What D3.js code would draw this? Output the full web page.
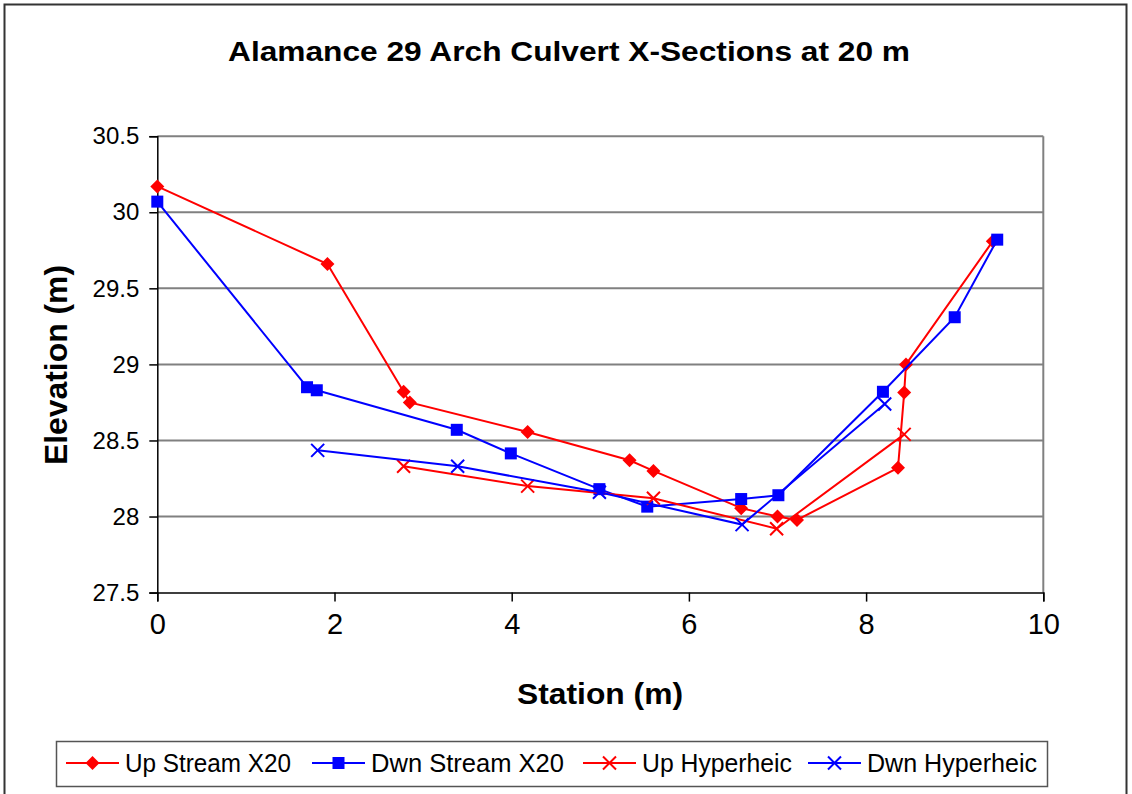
<!DOCTYPE html>
<html>
<head>
<meta charset="utf-8">
<script src="https://cdn.jsdelivr.net/npm/d3@7"></script>
<style>
  html, body { margin: 0; padding: 0; background: #fff; }
  svg { display: block; font-family: "Liberation Sans", Arial, sans-serif; }
</style>
</head>
<body>
<svg id="chart" width="1132" height="794"></svg>
<script>
// Cross-section survey: station (m) vs elevation (m)
const upStreamStation = [0, 1.92, 2.78, 2.85, 4.18, 5.33, 5.60, 6.59, 7.00, 7.22, 8.36, 8.43, 8.45, 9.43];
const upStreamElev    = [30.17, 29.66, 28.82, 28.75, 28.556, 28.37, 28.30, 28.055, 28.00, 27.978, 28.32, 28.815, 29.00, 29.81];

const dwnStreamStation = [0, 1.69, 1.80, 3.38, 3.99, 4.99, 5.53, 6.59, 7.01, 8.19, 9.00, 9.48];
const dwnStreamElev    = [30.07, 28.85, 28.83, 28.57, 28.415, 28.18, 28.065, 28.115, 28.14, 28.82, 29.31, 29.82];

const upHypStation = [2.78, 4.18, 5.60, 6.99, 8.43];
const upHypElev    = [28.33, 28.20, 28.12, 27.92, 28.54];

const dwnHypStation = [1.81, 3.39, 4.99, 6.60, 8.21];
const dwnHypElev    = [28.435, 28.33, 28.16, 27.947, 28.74];

const xTicks = [0, 2, 4, 6, 8, 10];
const yTicks = [27.5, 28, 28.5, 29, 29.5, 30, 30.5];

const seriesNames  = ["Up Stream X20", "Dwn Stream X20", "Up Hyperheic", "Dwn Hyperheic"];
const seriesColors = ["#FF0000", "#0000FF", "#FF0000", "#0000FF"];
const seriesShapes = ["diamond", "square", "cross", "cross"];

const chartTitle = "Alamance 29 Arch Culvert X-Sections at 20 m";
const xTitle = "Station (m)";
const yTitle = "Elevation (m)";

const series = [
  { name: seriesNames[0], color: seriesColors[0], shape: seriesShapes[0], pts: upStreamStation.map((x, i) => [x, upStreamElev[i]]) },
  { name: seriesNames[1], color: seriesColors[1], shape: seriesShapes[1], pts: dwnStreamStation.map((x, i) => [x, dwnStreamElev[i]]) },
  { name: seriesNames[2], color: seriesColors[2], shape: seriesShapes[2], pts: upHypStation.map((x, i) => [x, upHypElev[i]]) },
  { name: seriesNames[3], color: seriesColors[3], shape: seriesShapes[3], pts: dwnHypStation.map((x, i) => [x, dwnHypElev[i]]) }
];

const svg = d3.select("#chart");
const plot = { left: 157.3, right: 1043.3, top: 136.2, bottom: 592.6 };

const x = d3.scaleLinear().domain([0, 10]).range([plot.left, plot.right]);
const y = d3.scaleLinear().domain([27.5, 30.5]).range([plot.bottom, plot.top]);

// outer frame
svg.append("rect")
  .attr("x", 4.5).attr("y", 4.5).attr("width", 1122).attr("height", 800)
  .attr("fill", "#fff").attr("stroke", "#333").attr("stroke-width", 2);

// title
svg.append("text")
  .attr("x", 569).attr("y", 61)
  .attr("text-anchor", "middle")
  .attr("font-size", 28).attr("font-weight", "bold")
  .attr("textLength", 682).attr("lengthAdjust", "spacingAndGlyphs")
  .text(chartTitle);

// horizontal gridlines
svg.append("g").selectAll("line")
  .data(yTicks.slice(1))
  .join("line")
  .attr("x1", plot.left).attr("x2", plot.right)
  .attr("y1", d => y(d)).attr("y2", d => y(d))
  .attr("stroke", "#808080").attr("stroke-width", 2);

// plot border: gray on the right
svg.append("line")
  .attr("x1", plot.right).attr("x2", plot.right)
  .attr("y1", plot.top).attr("y2", plot.bottom)
  .attr("stroke", "#808080").attr("stroke-width", 2);

// y axis
const yAxis = svg.append("g")
  .attr("transform", `translate(${plot.left},0)`)
  .call(d3.axisLeft(y).tickValues(yTicks).tickSize(8).tickPadding(10).tickFormat(d3.format("")));
yAxis.select(".domain").attr("stroke", "#000").attr("stroke-width", 1.5);
yAxis.selectAll(".tick line").attr("stroke", "#000").attr("stroke-width", 1.5);
yAxis.selectAll(".tick text")
  .attr("font-size", 24).attr("font-family", "Liberation Sans, Arial, sans-serif").attr("fill", "#000");

// x axis
const xAxis = svg.append("g")
  .attr("transform", `translate(0,${plot.bottom})`)
  .call(d3.axisBottom(x).tickValues(xTicks).tickSize(9).tickPadding(12).tickFormat(d3.format("")));
xAxis.select(".domain").attr("stroke", "#000").attr("stroke-width", 1.5);
xAxis.selectAll(".tick line").attr("stroke", "#000").attr("stroke-width", 1.5);
xAxis.selectAll(".tick text")
  .attr("font-size", 29).attr("font-family", "Liberation Sans, Arial, sans-serif").attr("fill", "#000");

// axis titles
svg.append("text")
  .attr("x", 600).attr("y", 704)
  .attr("text-anchor", "middle")
  .attr("font-size", 30).attr("font-weight", "bold")
  .attr("textLength", 166).attr("lengthAdjust", "spacingAndGlyphs")
  .text(xTitle);

svg.append("text")
  .attr("transform", "translate(67,365) rotate(-90)")
  .attr("text-anchor", "middle")
  .attr("font-size", 31).attr("font-weight", "bold")
  .attr("textLength", 200).attr("lengthAdjust", "spacingAndGlyphs")
  .text(yTitle);

// marker drawing
function drawMarker(g, shape, color) {
  if (shape === "diamond") {
    g.append("path").attr("d", "M0,-7L7,0L0,7L-7,0Z").attr("fill", color);
  } else if (shape === "square") {
    g.append("rect").attr("x", -6).attr("y", -6).attr("width", 12).attr("height", 12).attr("fill", color);
  } else {
    g.append("path").attr("d", "M-6.5,-6.5L6.5,6.5M-6.5,6.5L6.5,-6.5")
      .attr("stroke", color).attr("stroke-width", 2).attr("fill", "none");
  }
}

const line = d3.line().x(d => x(d[0])).y(d => y(d[1]));

series.forEach(s => {
  const g = svg.append("g");
  g.append("path")
    .attr("d", line(s.pts))
    .attr("fill", "none").attr("stroke", s.color).attr("stroke-width", 2);
  g.selectAll("g.pt")
    .data(s.pts)
    .join("g")
    .attr("class", "pt")
    .attr("transform", d => `translate(${x(d[0])},${y(d[1])})`)
    .each(function () { drawMarker(d3.select(this), s.shape, s.color); });
});

// legend
const legendBox = { x: 56.5, y: 741.5, w: 991, h: 45 };
svg.append("rect")
  .attr("x", legendBox.x).attr("y", legendBox.y)
  .attr("width", legendBox.w).attr("height", legendBox.h)
  .attr("fill", "#fff").attr("stroke", "#555").attr("stroke-width", 1.5);

const legendX = [66, 312, 583, 808];
const legendTextW = [166, 193, 150, 170];
const legendY = 763;
series.forEach((s, i) => {
  const g = svg.append("g").attr("transform", `translate(${legendX[i]},${legendY})`);
  g.append("line").attr("x1", 0).attr("x2", 53).attr("y1", 0).attr("y2", 0)
    .attr("stroke", s.color).attr("stroke-width", 2);
  const m = g.append("g").attr("transform", "translate(26.5,0)");
  drawMarker(m, s.shape, s.color);
  g.append("text")
    .attr("x", 59).attr("y", 9)
    .attr("font-size", 25)
    .attr("textLength", legendTextW[i]).attr("lengthAdjust", "spacingAndGlyphs")
    .text(s.name);
});
</script>
</body>
</html>
